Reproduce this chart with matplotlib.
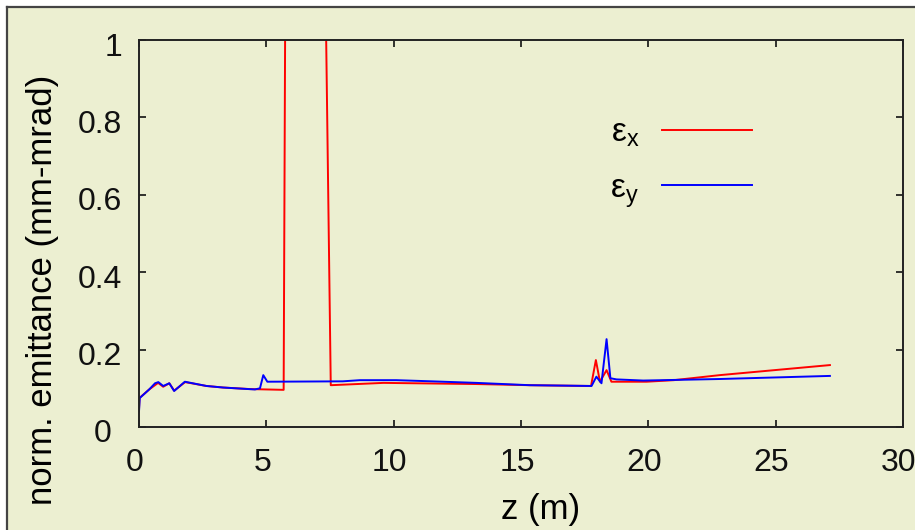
import matplotlib
matplotlib.use("Agg")
import matplotlib.pyplot as plt
from matplotlib.patches import Rectangle
from matplotlib.lines import Line2D
from matplotlib.transforms import ScaledTranslation

# emittance along z
z_x = [0.0, 0.02, 0.4, 0.75, 0.95, 1.19, 1.38, 1.81, 2.65, 3.3, 4.36, 5.68,
       5.74, 7.34, 7.53, 9.6, 13.25, 15.35, 17.75, 17.94, 18.1, 18.36, 18.55,
       19.93, 21.0, 22.8, 27.13]
eps_x = [0.045, 0.075, 0.097, 0.114, 0.104, 0.113, 0.094, 0.116, 0.106, 0.102,
         0.098, 0.096, 1.05, 1.05, 0.108, 0.114, 0.111, 0.108, 0.106, 0.173,
         0.117, 0.147, 0.117, 0.117, 0.121, 0.134, 0.160]

z_y = [0.0, 0.03, 0.4, 0.63, 0.76, 0.95, 1.19, 1.38, 1.8, 2.65, 3.3, 4.55,
       4.75, 4.88, 5.04, 8.0, 8.67, 10.1, 11.5, 13.25, 15.35, 17.77, 17.96,
       18.16, 18.36, 18.51, 18.75, 19.8, 22.8, 27.13]
eps_y = [0.04, 0.075, 0.097, 0.113, 0.116, 0.106, 0.113, 0.093, 0.117, 0.106,
         0.102, 0.097, 0.100, 0.134, 0.117, 0.118, 0.121, 0.121, 0.118, 0.114,
         0.108, 0.106, 0.130, 0.113, 0.227, 0.126, 0.123, 0.120, 0.124, 0.132]

x_ticks = [0, 5, 10, 15, 20, 25, 30]
y_ticks = [0, 0.2, 0.4, 0.6, 0.8, 1]
y_tick_labels = ["0", "0.2", "0.4", "0.6", "0.8", "1"]

plt.rcParams["font.family"] = ["Liberation Sans", "DejaVu Sans"]
plt.rcParams["mathtext.fontset"] = "custom"
plt.rcParams["mathtext.rm"] = "Liberation Sans"
plt.rcParams["mathtext.it"] = "Liberation Sans"

bg = "#ECEFD1"
W, H = 915, 530
fig = plt.figure(figsize=(W / 100, H / 100), dpi=100, facecolor="white")

# panel background and its border (top and left edges visible)
fig.patches.append(Rectangle((7 / W, 0), 1, 1 - 7 / H, transform=fig.transFigure,
                             facecolor=bg, edgecolor="none", zorder=-10))
fig.add_artist(Line2D([7 / W, 7 / W], [0, 1 - 7 / H], color="#444444", lw=1.6))
fig.add_artist(Line2D([7 / W, 1], [1 - 7 / H, 1 - 7 / H], color="#444444", lw=1.6))

ax = fig.add_axes([139 / W, 1 - 427 / H, 764 / W, 387 / H])
ax.set_facecolor(bg)

ax.plot(z_x, eps_x, color="#FF0000", lw=1.4, label=r"$\mathregular{ε_x}$")
ax.plot(z_y, eps_y, color="#0000FF", lw=1.4, label=r"$\mathregular{ε_y}$")

ax.set_xlim(0, 30)
ax.set_ylim(0, 1)
ax.set_xticks(x_ticks)
ax.set_yticks(y_ticks)
ax.set_yticklabels(y_tick_labels)
ax.tick_params(direction="in", length=5, width=1.2, top=True, right=True,
               labelsize=23, pad=12, colors="#111111")
ax.tick_params(axis="x", pad=15)
for s in ax.spines.values():
    s.set_linewidth(1.4)
    s.set_color("#222222")

# gnuplot-like nudges of the tick labels
px = 1 / 100
for lbl in ax.get_xticklabels():
    lbl.set_transform(lbl.get_transform() + ScaledTranslation(-4 * px, 0, fig.dpi_scale_trans))
for lbl in ax.get_yticklabels():
    dx = -11 * px if lbl.get_text() == "0" else 0
    lbl.set_transform(lbl.get_transform() + ScaledTranslation(dx, -4 * px, fig.dpi_scale_trans))

ax.set_xlabel("z (m)", fontsize=25)
ax.xaxis.set_label_coords(0.525, -0.17)
ax.set_ylabel("norm. emittance (mm-mrad)", fontsize=25, va="center")
ax.yaxis.set_label_coords(-0.126, 0.354)

ax.legend(loc="upper right", bbox_to_anchor=(0.803, 0.80), frameon=False,
          markerfirst=False, fontsize=24, handlelength=2.7, handletextpad=0.7,
          labelspacing=0.73, borderpad=0, borderaxespad=0)

fig.savefig("out.png", dpi=100, facecolor="white")
